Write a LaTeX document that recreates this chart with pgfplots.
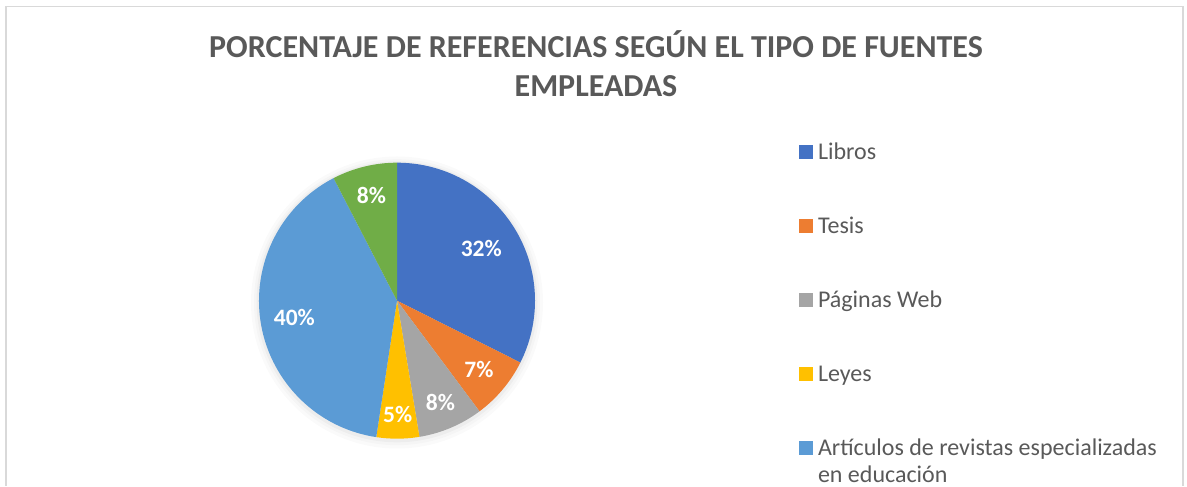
\documentclass[border=0pt]{standalone}
\usepackage{fontspec}
\setmainfont{Carlito}
\usepackage{pgfplots}
\pgfplotsset{compat=1.18}

\definecolor{txtgray}{HTML}{595959}
\definecolor{framegray}{HTML}{D9D9D9}
\definecolor{cLibros}{HTML}{4472C4}
\definecolor{cTesis}{HTML}{ED7D31}
\definecolor{cWeb}{HTML}{A5A5A5}
\definecolor{cLeyes}{HTML}{FFC000}
\definecolor{cArt}{HTML}{5B9BD5}
\definecolor{cOtros}{HTML}{70AD47}

% pie centre (px of the reference, y up) and radius
\newcommand\cx{397}
\newcommand\cy{185.3}
% #1 colour, #2 cumulative share before the slice, #3 share (percent)
\newcommand\slice[3]{%
  \fill[#1] (axis cs:\cx,\cy) -- ++({90-3.6*#2}:138bp)
    arc[start angle={90-3.6*#2}, end angle={90-3.6*(#2+#3)}, radius=138bp] -- cycle;}
% #1 cumulative share, #2 share, #3 distance from centre, #4 label
\newcommand\pielabel[4]{%
  \path (axis cs:\cx,\cy) ++({90-3.6*(#1+#2/2)}:#3bp)
    node[text=white, font=\bfseries\fontsize{23.5bp}{27bp}\selectfont] {#4\%};}

\begin{document}
\begin{tikzpicture}
\begin{axis}[
    disabledatascaling,
    x=1bp, y=1bp,
    xmin=0, xmax=1187, ymin=0, ymax=486,
    hide axis, clip=false,
    legend cell align=left,
    legend image code/.code={\fill[#1, draw=none] (0bp,0bp) rectangle (14bp,14bp);},
    legend style={draw=none, fill=none, inner sep=0pt, outer sep=0pt,
        at={(axis cs:799,344.7)}, anchor=north west,
        row sep=50bp, column sep=5bp,
        nodes={inner sep=0pt, anchor=base west, text height=18bp, text depth=6bp,
            text=txtgray, font=\fontsize{24bp}{27bp}\selectfont}},
]
\path (axis cs:0,0) rectangle (axis cs:1187,486);
\draw[framegray, line width=1.5bp] (axis cs:6,0) |- (axis cs:1183,479.3) -- (axis cs:1183,0);

\node[anchor=base, text=txtgray, font=\bfseries\fontsize{32bp}{38bp}\selectfont]
    at (axis cs:596,428.7) {PORCENTAJE DE REFERENCIAS SEGÚN EL TIPO DE FUENTES};
\node[anchor=base, text=txtgray, font=\bfseries\fontsize{32bp}{38bp}\selectfont]
    at (axis cs:596,389.3) {EMPLEADAS};

% soft shadow
\fill[black, opacity=0.02] (axis cs:\cx,183.5) circle[radius=146bp];
\fill[black, opacity=0.02] (axis cs:\cx,183.8) circle[radius=143bp];
\fill[black, opacity=0.03] (axis cs:\cx,184.2) circle[radius=140.5bp];

\slice{cLibros}{0}{32.4}
\slice{cTesis}{32.4}{7.4}
\slice{cWeb}{39.8}{7.6}
\slice{cLeyes}{47.4}{5.0}
\slice{cArt}{52.4}{40.0}
\slice{cOtros}{92.4}{7.6}

\pielabel{0}{32.4}{99}{32}
\pielabel{32.4}{7.4}{107}{7}
\pielabel{39.8}{7.6}{111}{8}
\pielabel{47.4}{5.0}{114}{5}
\pielabel{52.4}{40.0}{104}{40}
\pielabel{92.4}{7.6}{108}{8}

\addlegendimage{fill=cLibros}
\addlegendentry{Libros}
\addlegendimage{fill=cTesis}
\addlegendentry{Tesis}
\addlegendimage{fill=cWeb}
\addlegendentry{Páginas Web}
\addlegendimage{fill=cLeyes}
\addlegendentry{Leyes}
\addlegendimage{fill=cArt}
\addlegendentry{\begin{tabular}[t]{@{}l@{}}Artículos de revistas especializadas\\en educación\end{tabular}}
\end{axis}
\end{tikzpicture}
\end{document}
